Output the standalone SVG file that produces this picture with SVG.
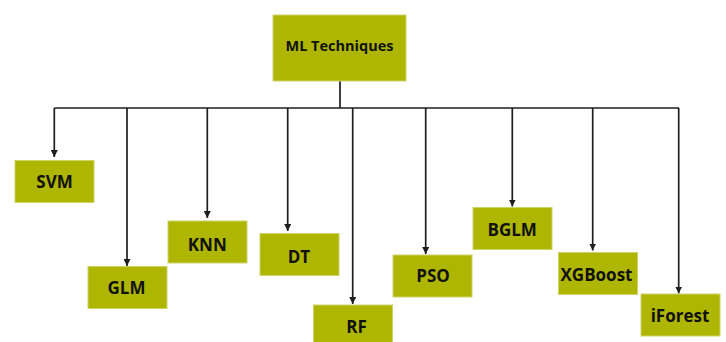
<svg xmlns="http://www.w3.org/2000/svg" width="726" height="342" viewBox="0 0 726 342">
<defs>
<marker id="ah" markerUnits="userSpaceOnUse" markerWidth="8" markerHeight="7" refX="7" refY="3.5" orient="auto">
<path d="M0,0 L7,3.5 L0,7 Z" fill="#1e1e1e"/>
</marker>
<style>
.box{fill:#aeb600;stroke:#cdd46a;stroke-width:1}
.lbl{font-family:"Open Sans","Liberation Sans",sans-serif;font-weight:700;font-size:17px;fill:#111;text-anchor:middle}
.root{font-size:14.5px}
.ln{fill:none;stroke:#1e1e1e;stroke-width:1.7}
.ar{fill:none;stroke:#1e1e1e;stroke-width:1.7;marker-end:url(#ah)}
</style>
</defs>
<rect width="726" height="342" fill="#ffffff"/>
<g id="connectors">
<path class="ln" d="M340,81 V108"/>
<path class="ln" d="M54.3,108 H679"/>
<path class="ar" d="M54.3,108 V157"/>
<path class="ar" d="M127,108 V266"/>
<path class="ar" d="M207.3,108 V218"/>
<path class="ar" d="M287.7,108 V231"/>
<path class="ar" d="M352.7,108 V304"/>
<path class="ar" d="M425.7,108 V254"/>
<path class="ar" d="M512.3,108 V206.5"/>
<path class="ar" d="M592.7,108 V250.5"/>
<path class="ar" d="M678.7,108 V293.5"/>
</g>
<g id="node-root">
<rect class="box" x="273" y="15" width="133" height="66"/>
<text class="lbl root" x="339.5" y="51">ML Techniques</text>
</g>
<g id="node-svm">
<rect class="box" x="15" y="160.5" width="79" height="42"/>
<text class="lbl" x="54.5" y="188">SVM</text>
</g>
<g id="node-glm">
<rect class="box" x="88" y="266.5" width="79" height="42"/>
<text class="lbl" x="126.5" y="293.5">GLM</text>
</g>
<g id="node-knn">
<rect class="box" x="168" y="221" width="79" height="42"/>
<text class="lbl" x="207.3" y="250.5">KNN</text>
</g>
<g id="node-dt">
<rect class="box" x="260" y="233.5" width="79" height="42"/>
<text class="lbl" x="299" y="262.5">DT</text>
</g>
<g id="node-rf">
<rect class="box" x="313.5" y="305" width="79" height="42"/>
<text class="lbl" x="356.5" y="332.5">RF</text>
</g>
<g id="node-pso">
<rect class="box" x="393" y="255" width="79" height="42"/>
<text class="lbl" x="433" y="282">PSO</text>
</g>
<g id="node-bglm">
<rect class="box" x="473" y="207.5" width="79" height="42"/>
<text class="lbl" x="512.2" y="235.5">BGLM</text>
</g>
<g id="node-xgboost">
<rect class="box" x="558.5" y="252.5" width="79" height="42"/>
<text class="lbl" x="596.5" y="280.5">XGBoost</text>
</g>
<g id="node-iforest">
<rect class="box" x="641" y="294" width="79" height="42"/>
<text class="lbl" x="680" y="322">iForest</text>
</g>
</svg>
